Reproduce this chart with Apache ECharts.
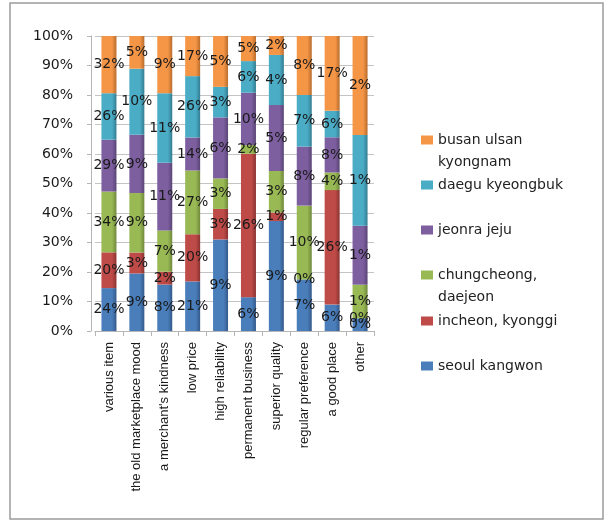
<!DOCTYPE html>
<html>
<head>
<meta charset="utf-8">
<script src="https://cdn.jsdelivr.net/npm/echarts@6/dist/echarts.min.js"></script>
<style>
  html, body { margin: 0; padding: 0; background: #ffffff; }
  #chart { width: 607px; height: 521px; }
</style>
</head>
<body>
<div id="chart"></div>
<script>
// Reasons for choosing a traditional market, by region (share of each region's answers, %)
const categories = [
  'various item', 'the old marketplace mood', "a merchant's kindness", 'low price',
  'high reliability', 'permanent business', 'superior quality', 'regular preference',
  'a good place', 'other'
];
const seoulKangwon        = [24, 8.8, 7.55, 21, 9, 6.2, 9.0, 7, 6, 0.2];
const incheonKyonggi      = [20, 3.2, 2.1, 20, 3, 26.3, 0.7, 0, 26, 0];
const chungcheongDaejeon  = [34, 9.1, 6.7, 27, 3, 1.6, 3.4, 10, 4, 0.53];
const jeonraJeju          = [29, 8.9, 11.0, 14, 6, 9.6, 5.4, 8, 8, 0.93];
const daeguKyeongbuk      = [26, 10.1, 11.3, 26, 3, 5.8, 4.1, 7, 6, 1.43];
const busanUlsanKyongnam  = [32, 5.0, 9.3, 17, 5, 4.6, 1.55, 8, 17, 1.56];

const yTickLabels = ['0%', '10%', '20%', '30%', '40%', '50%', '60%', '70%', '80%', '90%', '100%'];

const seriesDefs = [
  { name: 'seoul kangwon',        values: seoulKangwon,       color: '#4A7EBB', dark: '#34598A' },
  { name: 'incheon, kyonggi',     values: incheonKyonggi,     color: '#BE4B48', dark: '#8A3331' },
  { name: 'chungcheong, daejeon', values: chungcheongDaejeon, color: '#98B954', dark: '#6F883B' },
  { name: 'jeonra jeju',          values: jeonraJeju,         color: '#7D5FA0', dark: '#5A4475' },
  { name: 'daegu kyeongbuk',      values: daeguKyeongbuk,     color: '#4BACC6', dark: '#337D91' },
  { name: 'busan ulsan kyongnam', values: busanUlsanKyongnam, color: '#F59647', dark: '#B96C2C' }
];

// Column totals: each bar is scaled to 100% of its category
const totals = categories.map((_, i) =>
  seriesDefs.reduce((s, d) => s + d.values[i], 0));

const series = seriesDefs.map(d => ({
  name: d.name,
  type: 'bar',
  stack: 'share',
  barWidth: 15,
  itemStyle: {
    color: new echarts.graphic.LinearGradient(0, 0, 1, 0, [
      { offset: 0, color: d.color },
      { offset: 0.7, color: d.color },
      { offset: 1, color: d.dark }
    ])
  },
  label: {
    show: true,
    position: 'inside',
    color: '#1a1a1a',
    fontFamily: 'DejaVu Sans',
    fontSize: 14,
    formatter: p => Math.round(p.data.raw) + '%'
  },
  data: d.values.map((v, i) => ({ value: v / totals[i] * 100, raw: v }))
}));

// Legend entries, top to bottom, with their display lines and icon centre heights
const legendRows = [
  { name: 'busan ulsan kyongnam', lines: ['busan ulsan', 'kyongnam'], y: 140 },
  { name: 'daegu kyeongbuk',      lines: ['daegu kyeongbuk'],         y: 185 },
  { name: 'jeonra jeju',          lines: ['jeonra jeju'],             y: 230 },
  { name: 'chungcheong, daejeon', lines: ['chungcheong,', 'daejeon'], y: 275 },
  { name: 'incheon, kyonggi',     lines: ['incheon, kyonggi'],        y: 321 },
  { name: 'seoul kangwon',        lines: ['seoul kangwon'],           y: 366 }
];
const LH = 22;
const legends = legendRows.map(r => {
  const def = seriesDefs.find(d => d.name === r.name);
  const text = r.lines.length > 1 ? ' \n' + r.lines.join('\n') : r.lines[0];
  const h = r.lines.length > 1 ? LH * 3 : LH;
  return {
    left: 421,
    top: r.y - h / 2,
    padding: 0,
    itemWidth: 12,
    itemHeight: 9,
    icon: 'rect',
    selectedMode: false,
    data: [{ name: r.name, itemStyle: { color: def.color } }],
    formatter: () => text,
    textStyle: { fontFamily: 'DejaVu Sans', fontSize: 14, color: '#222', lineHeight: LH }
  };
});

const chart = echarts.init(document.getElementById('chart'), null, { renderer: 'canvas' });
chart.setOption({
  animation: false,
  backgroundColor: '#ffffff',
  graphic: [{
    type: 'rect',
    shape: { x: 10, y: 3, width: 593, height: 516 },
    style: { fill: 'none', stroke: '#9c9c9c', lineWidth: 1.5 },
    silent: true
  }],
  grid: { left: 95, right: 233, top: 36, bottom: 190 },
  legend: legends,
  xAxis: {
    type: 'category',
    data: categories,
    axisLine: { show: true, lineStyle: { color: '#b5b5b5' } },
    axisTick: { show: true, length: 5, lineStyle: { color: '#b5b5b5' } },
    axisLabel: {
      rotate: 90,
      interval: 0,
      margin: 11,
      fontFamily: 'Liberation Sans',
      fontSize: 13,
      color: '#1a1a1a'
    }
  },
  yAxis: {
    type: 'value',
    min: 0,
    max: 100,
    interval: 10,
    offset: 4,
    axisLine: { show: true, lineStyle: { color: '#b5b5b5' } },
    axisTick: { show: true, length: 4, lineStyle: { color: '#b5b5b5' } },
    splitLine: { show: true, lineStyle: { color: '#c4c4c4' } },
    axisLabel: {
      margin: 18,
      padding: [6, 0, 0, 0],
      fontFamily: 'DejaVu Sans',
      fontSize: 14,
      color: '#1a1a1a',
      formatter: v => yTickLabels[Math.round(v / 10)]
    }
  },
  series: series
});
</script>
</body>
</html>
